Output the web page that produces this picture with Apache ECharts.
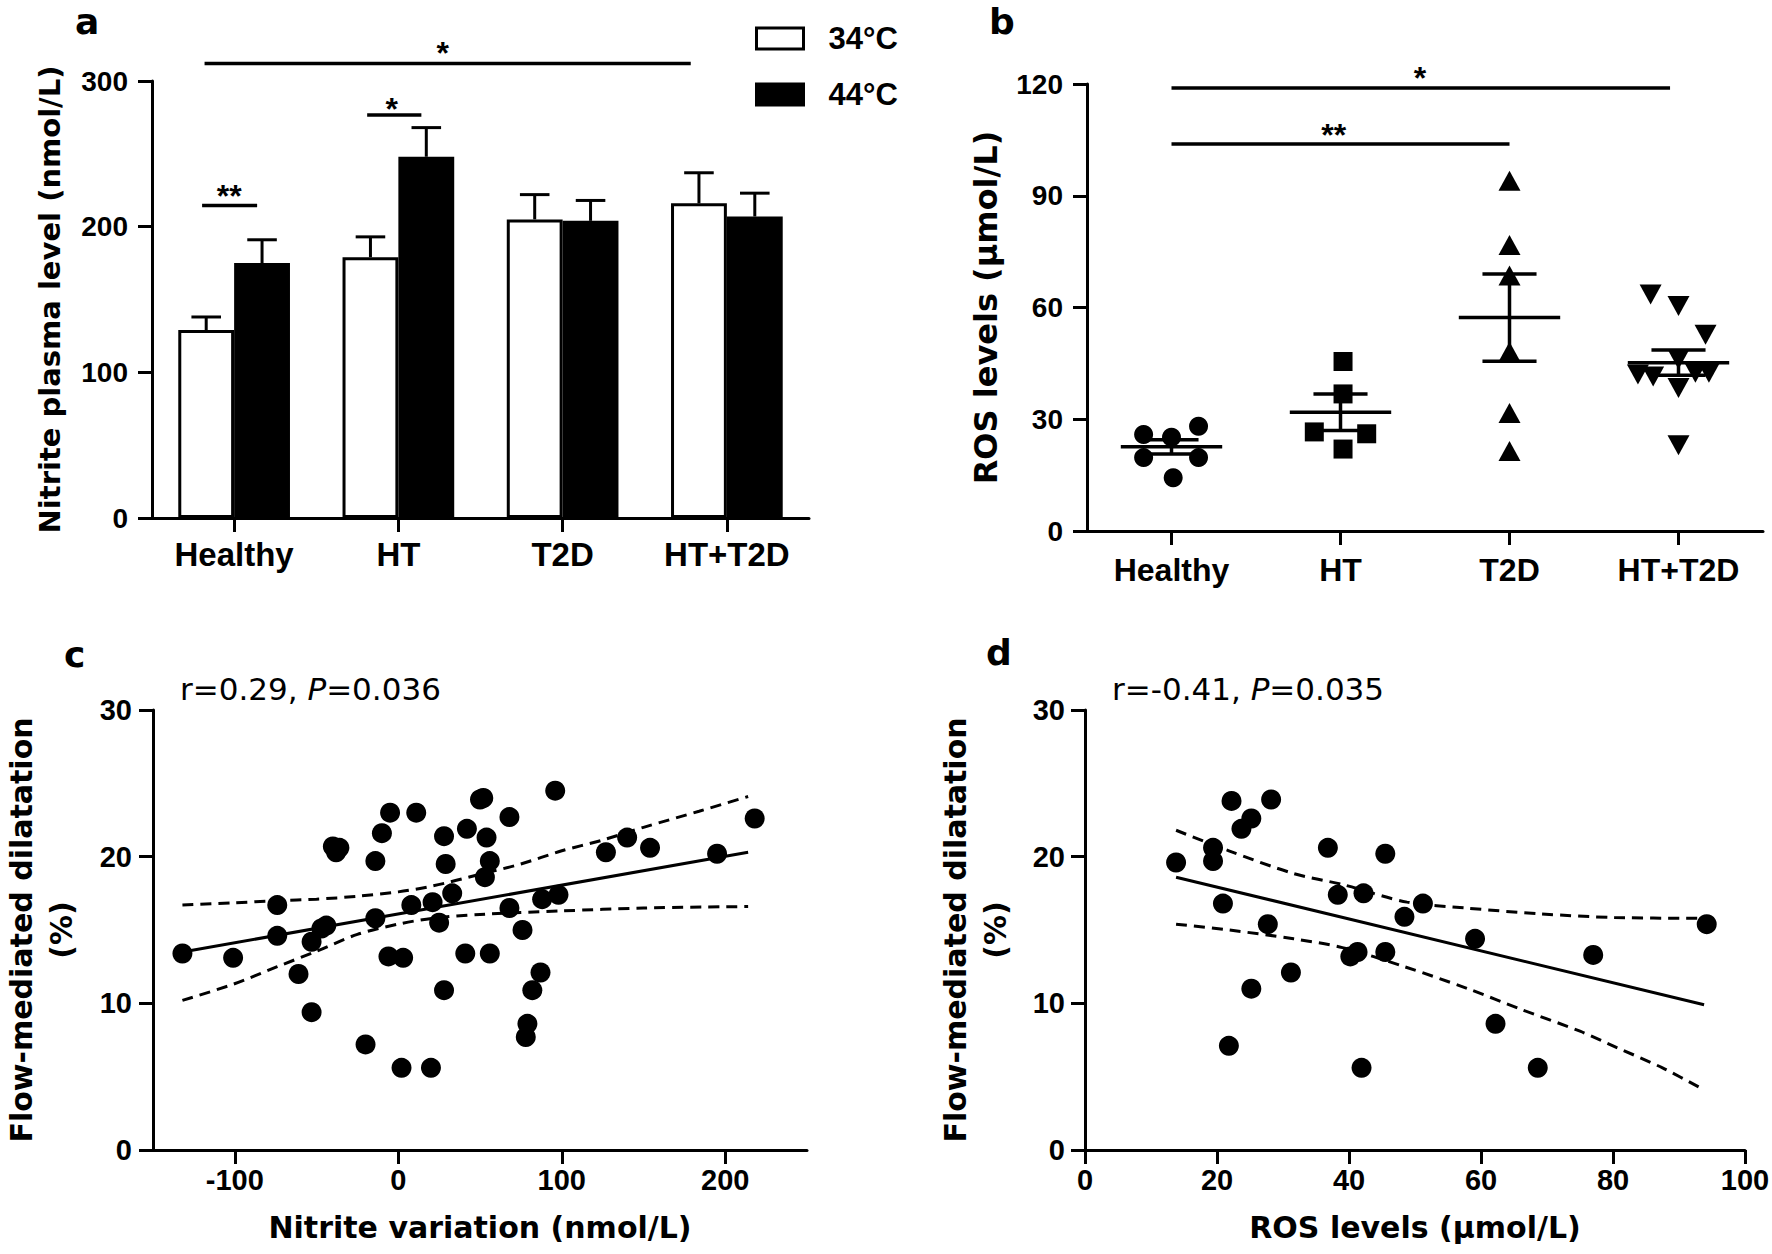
<!DOCTYPE html>
<html><head><meta charset="utf-8">
<script src="https://cdn.jsdelivr.net/npm/echarts@6/dist/echarts.min.js"></script>
<style>html,body{margin:0;padding:0;background:#fff}#chart{width:1772px;height:1254px}</style>
</head><body><div id="chart"></div>
<script>
// ================= DATA =================
const groups = ['Healthy', 'HT', 'T2D', 'HT+T2D'];
// panel a – nitrite plasma level (nmol/L), mean and SEM
const nitrite34 = [129, 179, 205, 216];
const nitrite34Sem = [9, 14, 17, 21];
const nitrite44 = [175, 248, 204, 207];
const nitrite44Sem = [16, 20, 14, 16];
// significance brackets a: [xStart, xEnd, y] in category units
const sigALines = [[-0.18, 2.78, 312], [0.81, 1.14, 276.6], [-0.195, 0.14, 214.6]];
const sigAStars = [[1.27, 324], [0.96, 285.5], [-0.03, 225.8]];
const sigALabels = ['*', '*', '**'];

// panel b – ROS levels (μmol/L) individual values and horizontal jitter
const rosHealthy = [25.9, 25.2, 28.1, 19.7, 19.7, 14.3];
const rosHealthyJit = [-0.165, 0, 0.16, -0.165, 0.16, 0.01];
const rosHT = [45.5, 36.8, 26.6, 26.1, 22.0];
const rosHTJit = [0.015, 0.015, -0.155, 0.155, 0.015];
const rosT2D = [94.0, 76.8, 68.6, 48.1, 31.7, 21.5];
const rosT2DJit = [0, 0, 0, 0, 0, 0];
const rosHTT2D = [63.5, 60.4, 52.7, 46.1, 42.0, 41.5, 42.5, 42.5, 38.4, 23.0];
const rosHTT2DJit = [-0.165, 0, 0.16, 0, -0.24, -0.15, 0.1, 0.18, 0, 0];
const rosMean = [22.6, 31.9, 57.3, 45.2];
const rosSem = [1.9, 4.9, 11.7, 3.4];
const sigBLines = [[0, 2.95, 118.9], [0, 2.0, 103.9]];
const sigBStars = [[1.47, 123.3], [0.96, 108]];
const sigBLabels = ['*', '**'];

// panel c – nitrite variation vs FMD
const nitriteVar = [-132,-101,-74,-74,-61,-53,-53,-47,-44,-40,-36,-38,-20,-14,-10,-5,-14,-6,3,2,11,8,20,21,25,28,29,28,33,41,42,50,52,54,56,53,56,68,68,76,79,78,82,87,88,96,98,127,140,154,195,218];
const fmdC = [13.4,13.1,16.7,14.6,12.0,9.4,14.2,15.1,15.3,20.7,20.6,20.3,7.2,19.7,21.6,23.0,15.8,13.2,13.1,5.6,23.0,16.7,5.6,16.9,15.5,21.4,19.5,10.9,17.5,13.4,21.9,23.9,24.0,21.3,19.7,18.6,13.4,22.7,16.5,15.0,8.6,7.7,10.9,12.1,17.1,24.5,17.4,20.3,21.3,20.6,20.2,22.6];
const fitC = [[-132, 13.5], [214, 20.3]];
const upperC = [[-132,16.7],[-101,16.85],[-74,17.0],[-50,17.1],[-25,17.3],[0,17.6],[21,18.0],[50,18.8],[75,19.5],[100,20.4],[124,21.1],[150,22.0],[184,23.1],[214,24.1]];
const lowerC = [[-132,10.2],[-101,11.3],[-74,12.5],[-50,13.55],[-25,14.7],[0,15.4],[21,15.8],[50,16.06],[100,16.3],[150,16.5],[214,16.6]];
const ticksC = [-100, 0, 100, 200];

// panel d – ROS vs FMD
const rosD = [13.8,19.4,19.4,20.9,22.2,21.8,23.7,25.2,25.2,27.7,28.2,31.2,36.8,38.3,40.2,41.3,42.2,41.9,45.5,45.5,48.4,51.2,59.1,62.2,68.6,77.0,94.2];
const fmdD = [19.6,20.6,19.7,16.8,23.8,7.1,21.9,22.6,11.0,15.4,23.9,12.1,20.6,17.4,13.2,13.5,17.5,5.6,20.2,13.5,15.9,16.8,14.4,8.6,5.6,13.3,15.4];
const fitD = [[13.8, 18.6], [93.8, 9.9]];
const upperD = [[13.8,21.8],[21.8,20.4],[31.6,18.85],[39,18.1],[48.8,16.9],[57.7,16.5],[69,16.1],[80.2,15.85],[93.8,15.8]];
const lowerD = [[13.8,15.4],[21.8,15.0],[31.6,14.4],[39,13.8],[48.4,12.5],[58,11.0],[66,9.6],[75,8.1],[80.5,7.0],[87.5,5.6],[93.8,4.1]];

// ================= STYLE =================
const FONT = "'Liberation Sans', Arial, sans-serif";
const WIDE = "'DejaVu Sans', Verdana, sans-serif";
const BLK = '#000';
const axisLine = { show: true, onZero: false, lineStyle: { color: BLK, width: 3 } };
const axisTick = { show: true, length: 14, lineStyle: { color: BLK, width: 3 } };
const nameStyle = (fs, lh) => ({ fontFamily: WIDE, fontWeight: 'bold', fontSize: fs, color: BLK, lineHeight: lh || fs });
const tickLabel = (fs, m) => ({ fontFamily: FONT, fontWeight: 'bold', fontSize: fs, color: BLK, margin: m });
const letterStyle = { fontFamily: WIDE, fontWeight: 'bold', fontSize: 36, color: BLK };
const annRich = {
  n: { fontFamily: WIDE, fontSize: 31, fontWeight: 'normal', color: BLK },
  i: { fontFamily: WIDE, fontSize: 31, fontWeight: 'normal', fontStyle: 'italic', color: BLK }
};

function lineEl(a, b, w) {
  return { type: 'line', shape: { x1: a[0], y1: a[1], x2: b[0], y2: b[1] }, style: { stroke: BLK, lineWidth: w || 3 } };
}
function starEl(p, txt) {
  const fs = 32;
  return { type: 'text', style: { text: txt, x: p[0], y: p[1] + 0.21 * fs, align: 'center', verticalAlign: 'middle',
    fontSize: fs, fontWeight: 'bold', fontFamily: FONT, fill: BLK } };
}
function errorBarRender(params, api) {
  const x = api.value(0), v = api.value(1), top = api.value(2);
  const p0 = api.coord([x, v]), p1 = api.coord([x, top]);
  const hw = api.size([0.09, 0])[0];
  return { type: 'group', children: [lineEl(p0, p1), lineEl([p1[0] - hw, p1[1]], [p1[0] + hw, p1[1]])] };
}
function sigLineRender(params, api) {
  const y = api.value(2);
  return lineEl(api.coord([api.value(0), y]), api.coord([api.value(1), y]), 3.5);
}
function starRender(labels) {
  return function (params, api) {
    return starEl(api.coord([api.value(0), api.value(1)]), labels[params.dataIndex]);
  };
}
function meanSemRender(params, api) {
  const i = api.value(0), m = api.value(1), s = api.value(2);
  const mL = api.coord([i - 0.3, m]), mR = api.coord([i + 0.3, m]);
  const top = api.coord([i, m + s]), bot = api.coord([i, m - s]);
  const hw = api.size([0.16, 0])[0];
  return { type: 'group', children: [
    lineEl(mL, mR, 3.5), lineEl(top, bot, 3.5),
    lineEl([top[0] - hw, top[1]], [top[0] + hw, top[1]], 3.5),
    lineEl([bot[0] - hw, bot[1]], [bot[0] + hw, bot[1]], 3.5)
  ] };
}

// derived data for the library
const BAR_OFF = 0.17;
const errA = [];
groups.forEach((g, i) => {
  errA.push([i - BAR_OFF, nitrite34[i], nitrite34[i] + nitrite34Sem[i]]);
  errA.push([i + BAR_OFF, nitrite44[i], nitrite44[i] + nitrite44Sem[i]]);
});
const jitterPts = (vals, jit, idx) => vals.map((v, k) => [idx + jit[k], v]);
const zip = (xs, ys) => xs.map((x, k) => [x, ys[k]]);

const solidBlack = { color: BLK, opacity: 1 };
const scatterB = (name, vals, jit, idx, symbol, size, rot) => ({
  name, type: 'scatter', xAxisIndex: 3, yAxisIndex: 1, data: jitterPts(vals, jit, idx),
  symbol, symbolSize: size, symbolRotate: rot || 0, itemStyle: solidBlack, z: 2, silent: true
});
const plainLine = (data, xi, yi, dashed) => ({
  type: 'line', xAxisIndex: xi, yAxisIndex: yi, data, symbol: 'none', showSymbol: false, silent: true,
  smooth: dashed ? 0.3 : false, z: 2, clip: false,
  lineStyle: { color: BLK, width: 3, opacity: 1, type: dashed ? [11, 7] : 'solid' }
});

const option = {
  animation: false,
  backgroundColor: '#fff',
  textStyle: { fontFamily: FONT, color: BLK },
  title: [
    { text: 'a', left: 75, top: 3, padding: 0, textStyle: letterStyle },
    { text: 'b', left: 989, top: 3, padding: 0, textStyle: letterStyle },
    { text: 'c', left: 64, top: 636, padding: 0, textStyle: letterStyle },
    { text: 'd', left: 986, top: 634, padding: 0, textStyle: letterStyle },
    { text: '{n|r=0.29, }{i|P}{n|=0.036}', left: 180, top: 673, padding: 0, textStyle: { fontWeight: 'normal', rich: annRich } },
    { text: '{n|r=-0.41, }{i|P}{n|=0.035}', left: 1112, top: 673, padding: 0, textStyle: { fontWeight: 'normal', rich: annRich } }
  ],
  legend: {
    orient: 'vertical', left: 755, top: 23, itemWidth: 47, itemHeight: 21, itemGap: 25, padding: 0,
    icon: 'rect', selectedMode: false,
    data: [
      { name: '34°C', itemStyle: { color: '#fff', borderColor: BLK, borderWidth: 3 } },
      { name: '44°C', itemStyle: { color: BLK, borderColor: BLK, borderWidth: 3 } }
    ],
    formatter: '{t|{name}}',
    textStyle: { rich: { t: { fontFamily: FONT, fontWeight: 'bold', fontSize: 31, color: BLK, lineHeight: 24, padding: [0, 0, 0, 20] } } }
  },
  grid: [
    { left: 152, top: 81, width: 657, height: 437, outerBoundsMode: 'none', containLabel: false },
    { left: 1087, top: 84, width: 676, height: 447, outerBoundsMode: 'none', containLabel: false },
    { left: 153, top: 710, width: 654, height: 440, outerBoundsMode: 'none', containLabel: false },
    { left: 1085, top: 710, width: 660, height: 440, outerBoundsMode: 'none', containLabel: false }
  ],
  xAxis: [
    { type: 'category', gridIndex: 0, data: groups, axisLine, axisTick: Object.assign({ alignWithLabel: true }, axisTick),
      axisLabel: Object.assign({ interval: 0, hideOverlap: false }, tickLabel(33, 20)), splitLine: { show: false } },
    { type: 'value', gridIndex: 0, min: -0.5, max: 3.5, show: false, splitLine: { show: false } },
    { type: 'category', gridIndex: 1, data: groups, axisLine, axisTick: Object.assign({ alignWithLabel: true }, axisTick),
      axisLabel: Object.assign({ interval: 0, hideOverlap: false }, tickLabel(32, 23)), splitLine: { show: false } },
    { type: 'value', gridIndex: 1, min: -0.5, max: 3.5, show: false, splitLine: { show: false } },
    { type: 'value', gridIndex: 2, min: -150, max: 250, axisLine,
      axisTick: Object.assign({ customValues: ticksC }, axisTick),
      axisLabel: Object.assign({ customValues: ticksC }, tickLabel(29, 15)), splitLine: { show: false },
      name: 'Nitrite variation (nmol/L)', nameLocation: 'middle', nameGap: 62, nameTextStyle: nameStyle(30) },
    { type: 'value', gridIndex: 3, min: 0, max: 100, interval: 20, axisLine, axisTick,
      axisLabel: tickLabel(29, 15), splitLine: { show: false },
      name: 'ROS levels (μmol/L)', nameLocation: 'middle', nameGap: 62, nameTextStyle: nameStyle(30) }
  ],
  yAxis: [
    { type: 'value', gridIndex: 0, min: 0, max: 300, interval: 100, axisLine, axisTick, axisLabel: tickLabel(28, 24),
      splitLine: { show: false }, name: 'Nitrite plasma level (nmol/L)', nameLocation: 'middle', nameGap: 88, nameTextStyle: nameStyle(29) },
    { type: 'value', gridIndex: 1, min: 0, max: 120, interval: 30, axisLine, axisTick, axisLabel: tickLabel(28, 24),
      splitLine: { show: false }, name: 'ROS levels (μmol/L)', nameLocation: 'middle', nameGap: 85, nameTextStyle: nameStyle(32) },
    { type: 'value', gridIndex: 2, min: 0, max: 30, interval: 10, axisLine, axisTick, axisLabel: tickLabel(29, 21),
      splitLine: { show: false }, name: 'Flow-mediated dilatation\n(%)', nameLocation: 'middle', nameGap: 72, nameTextStyle: nameStyle(30, 40) },
    { type: 'value', gridIndex: 3, min: 0, max: 30, interval: 10, axisLine, axisTick, axisLabel: tickLabel(29, 20),
      splitLine: { show: false }, name: 'Flow-mediated dilatation\n(%)', nameLocation: 'middle', nameGap: 70, nameTextStyle: nameStyle(30, 40) }
  ],
  series: [
    // ---- panel a ----
    { name: '34°C', type: 'bar', xAxisIndex: 0, yAxisIndex: 0, data: nitrite34, barGap: '0%', barCategoryGap: '32%',
      itemStyle: { color: '#fff', borderColor: BLK, borderWidth: 3, opacity: 1 }, silent: true, z: 2 },
    { name: '44°C', type: 'bar', xAxisIndex: 0, yAxisIndex: 0, data: nitrite44, barGap: '0%', barCategoryGap: '32%',
      itemStyle: { color: BLK, borderColor: BLK, borderWidth: 3, opacity: 1 }, silent: true, z: 2 },
    { type: 'custom', xAxisIndex: 1, yAxisIndex: 0, data: errA, renderItem: errorBarRender, clip: false, silent: true, z: 3 },
    { type: 'custom', xAxisIndex: 1, yAxisIndex: 0, data: sigALines, renderItem: sigLineRender, clip: false, silent: true, z: 3 },
    { type: 'custom', xAxisIndex: 1, yAxisIndex: 0, data: sigAStars, renderItem: starRender(sigALabels), clip: false, silent: true, z: 3 },
    // ---- panel b ----
    scatterB('Healthy', rosHealthy, rosHealthyJit, 0, 'circle', 19),
    scatterB('HT', rosHT, rosHTJit, 1, 'rect', 19),
    scatterB('T2D', rosT2D, rosT2DJit, 2, 'triangle', [22, 20]),
    scatterB('HT+T2D', rosHTT2D, rosHTT2DJit, 3, 'triangle', [22, 20], 180),
    { type: 'custom', xAxisIndex: 3, yAxisIndex: 1, data: groups.map((g, i) => [i, rosMean[i], rosSem[i]]),
      renderItem: meanSemRender, clip: false, silent: true, z: 4 },
    { type: 'custom', xAxisIndex: 3, yAxisIndex: 1, data: sigBLines, renderItem: sigLineRender, clip: false, silent: true, z: 3 },
    { type: 'custom', xAxisIndex: 3, yAxisIndex: 1, data: sigBStars, renderItem: starRender(sigBLabels), clip: false, silent: true, z: 3 },
    // ---- panel c ----
    plainLine(upperC, 4, 2, true),
    plainLine(lowerC, 4, 2, true),
    plainLine(fitC, 4, 2, false),
    { type: 'scatter', xAxisIndex: 4, yAxisIndex: 2, data: zip(nitriteVar, fmdC), symbol: 'circle', symbolSize: 20,
      itemStyle: solidBlack, z: 3, silent: true },
    // ---- panel d ----
    plainLine(upperD, 5, 3, true),
    plainLine(lowerD, 5, 3, true),
    plainLine(fitD, 5, 3, false),
    { type: 'scatter', xAxisIndex: 5, yAxisIndex: 3, data: zip(rosD, fmdD), symbol: 'circle', symbolSize: 20,
      itemStyle: solidBlack, z: 3, silent: true }
  ]
};

const chart = echarts.init(document.getElementById('chart'), null, { renderer: 'svg', width: 1772, height: 1254 });
chart.setOption(option);
</script>
</body></html>
